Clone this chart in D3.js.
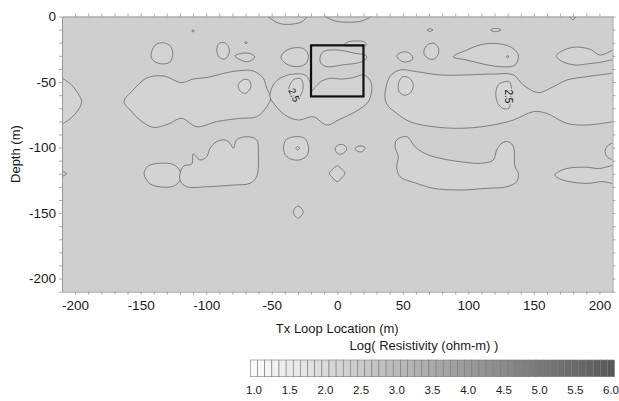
<!DOCTYPE html>
<html>
<head>
<meta charset="utf-8">
<script src="https://cdn.jsdelivr.net/npm/d3@7"></script>
<style>
  body { margin: 0; background: #fff; }
  svg { display: block; font-family: "Liberation Sans", Arial, sans-serif; }
</style>
</head>
<body>
<div id="chart"></div>
<script>
// Axis ticks (m)
const xTickValues = [-200, -150, -100, -50, 0, 50, 100, 150, 200]
const yTickValues = [0, -50, -100, -150, -200]
const colorbarLabels = [1.0, 1.5, 2.0, 2.5, 3.0, 3.5, 4.0, 4.5, 5.0, 5.5, 6.0]

// Log resistivity of the background and the contoured zones
const backgroundLevel = 2.35
const outerLevel = 2.25
const innerLevel = 2.15

// Contour lines, [Tx loop location (m), depth (m)]
const leftEdgeLobe = [[-210,-47],[-203,-52],[-197,-60],[-195,-65],[-198,-72],[-205,-79],[-210,-82]]
const leftEdgeNotch = [[-210,-118],[-206.5,-120],[-210,-122]]
const topLobeA = [[-53,0],[-45,-5],[-37,-6],[-27,-4],[-23,0]]
const topLobeB = [[-9.3,0],[-1.7,-3.4],[8.4,-4.4],[18.6,-3.4],[26.3,0]]
const topLobeC = [[177.5,0],[179.8,-2.6],[182,0]]
const dotA = [[-111,-11],[-110,-10.2],[-109,-11],[-110,-11.8]]
const dotB = [[-70.6,-20],[-69.6,-19.2],[-68.6,-20],[-69.6,-20.8]]
const dotC = [[129,-30.7],[130,-29.9],[131,-30.7],[130,-31.5]]
const lensTopA = [[68.5,-10.3],[70.7,-9.3],[73,-10.3],[70.7,-11.3]]
const lensTopB = [[117,-10.3],[121,-9],[125,-10.3],[121,-11.6]]
const blobA = [[-142,-29],[-139,-22],[-133,-20],[-127,-23],[-125.5,-29],[-128,-35],[-135,-36],[-141,-33]]
const blobB = [[-92,-25],[-90,-20.5],[-86,-20],[-83,-23],[-82.5,-28],[-86,-32.5],[-90,-31]]
const lensA = [[-78,-30],[-72,-28],[-66,-28.5],[-63,-31],[-68,-34.5],[-74,-33]]
const bigLeft = [[-162.7,-65],[-155.6,-56],[-145.4,-47],[-132.7,-45.4],[-118.7,-50.5],[-109.9,-47.7],
  [-98.4,-46.4],[-86.9,-43.4],[-74.2,-41.3],[-64,-41.6],[-56.4,-47.2],[-53.8,-54.8],[-50.8,-62.4],
  [-53.8,-68.8],[-61.5,-76.5],[-74.2,-77.7],[-92,-80.2],[-107.2,-84.1],[-118.7,-77.7],[-128.9,-82],
  [-140.3,-84.6],[-150.5,-79],[-158,-71.4]]
const innerLeft = [[-75.5,-52],[-71,-48],[-67,-49],[-66,-54],[-70,-58.6],[-74,-57]]
const blobC = [[-43,-31],[-39,-26],[-32,-23.8],[-25,-25],[-22,-30],[-24,-36],[-31,-38.3],[-39,-36]]
const rectTop = [[5,-22],[8,-19.5],[15,-18.7],[21,-19.5],[22,-22],[14,-22.5]]
const rectLens = [[-13.2,-31.9],[-10.6,-26.8],[0.8,-25.6],[13.5,-28.1],[21.2,-29.4],[22.5,-31.4],
  [18.7,-34.5],[3.4,-37],[-8,-38.3],[-12.4,-35.7]]
const centerBlob = [[-51.3,-61.2],[-48.8,-52.3],[-43.7,-47.2],[-34.8,-44.1],[-24.6,-44.6],[-20.8,-49.8],
  [-20,-56.9],[-15.7,-52.8],[-11.9,-49.2],[-5.5,-47.2],[3.4,-47.7],[12.2,-46.7],[19.9,-44.6],[25,-48.5],
  [26.3,-56.1],[23.7,-65],[16.1,-71.3],[0.8,-79],[-8,-82.8],[-18.3,-76.5],[-29.7,-79],[-39.9,-75.2],[-47.5,-67.5]]
const innerCenter = [[-36,-52],[-33,-48],[-28,-47.5],[-26,-52],[-27,-58],[-30,-62.4],[-34,-60],[-37,-56]]
const lensB = [[45.4,-30],[50,-27],[55,-28],[57.6,-32],[54,-34.5],[49,-34]]
const blobD = [[66,-27],[69,-21.5],[74,-20.5],[77,-24],[77,-29],[73,-32.7],[68,-31]]
const upperRight = [[88.6,-30.7],[98.8,-25.6],[108.9,-21.7],[119.1,-20.5],[131.8,-23],[138.1,-29.4],
  [135.6,-37],[124.2,-38.3],[108.9,-35.7],[98.8,-33.2]]
const rightEdgeUpper = [[210,-25.6],[200.5,-29.4],[192.8,-25],[180,-23.5],[168.7,-28],[167.4,-30.5],
  [172,-34.5],[182,-37],[192,-36],[200,-35],[210,-33]]
const rightEdgeMid = [[210,-48.5],[207.5,-56],[210,-63.7]]
const bigRight = [[210,-43.4],[190.3,-45.9],[175.1,-48.5],[164.8,-53.6],[153.4,-58.1],[142,-52.3],
  [134.4,-44.6],[119.1,-43.9],[98.8,-44.6],[78.4,-44.6],[60.6,-42.1],[47.9,-40.8],[40.2,-45.9],
  [36.4,-61.2],[38.2,-67.5],[45.4,-73.9],[55.5,-80.3],[73.3,-84.1],[93.7,-85.3],[114,-83.6],
  [134.4,-79],[149.6,-72.6],[159.8,-73.9],[175.1,-81.5],[190.3,-82.8],[210,-80.3]]
const innerRightA = [[47,-50],[50,-46],[55,-47],[58,-52],[56,-58],[51,-60],[47,-57]]
const innerRightB = [[127,-50],[131,-49.7],[133,-55],[132,-65],[131,-70],[126,-70],[122,-65],[121,-58],[123,-52]]
const ringA = [[-41,-100],[-39,-94],[-32,-91.7],[-25,-93],[-22,-99],[-23,-106],[-29,-109.5],[-36,-108.5],[-40,-105]]
const ringAInner = [[-31.5,-100.6],[-30.2,-99.3],[-28.9,-100.6],[-30.2,-101.9]]
const diamondA = [[-30,-144.6],[-26,-149],[-30,-154],[-33.5,-149]]
const smallA = [[-1.7,-101],[1,-98],[5,-98],[7.2,-101],[5,-104],[1,-105]]
const smallB = [[13.5,-101],[17,-98.8],[21.2,-100],[19,-103.2],[16,-103]]
const smallC = [[0,-114],[3.5,-116.5],[5.9,-119.6],[3.5,-123],[0,-126],[-3.5,-123],[-6,-119.6],[-3.5,-116.5]]
const leftOval = [[-147.4,-120],[-144,-114],[-135,-112],[-125,-113],[-120,-118],[-120,-125],
  [-125,-129.5],[-135,-130],[-143,-127.5]]
const centerLower = [[-120,-120],[-117,-114],[-111,-112.6],[-109.9,-104.9],[-104.7,-109.5],[-99.6,-107],
  [-97.1,-100.6],[-92,-95.5],[-85.6,-94.2],[-81.8,-96.8],[-79.3,-100.6],[-76.7,-94.2],[-69.1,-91.7],
  [-61.5,-94.2],[-60.2,-104.4],[-61.5,-122.2],[-66.6,-127.3],[-79.3,-128.6],[-99.6,-129.9],
  [-114.9,-129.9],[-119.4,-126]]
const rightLower = [[44.1,-99.4],[45.4,-94.2],[53,-91.7],[59.3,-99.4],[64.4,-103.2],[69.5,-105.7],
  [78.4,-108.2],[93.7,-110.8],[110.2,-112],[119.1,-109.5],[121.6,-101.9],[125.5,-96.8],[130.5,-95.5],
  [134.4,-99.4],[135.6,-114.6],[138.1,-119.6],[136.9,-126],[129.3,-129.9],[114,-131.1],[93.7,-132.4],
  [73.3,-131.1],[60.6,-127.3],[47.9,-122.2],[45.4,-114.6],[46.6,-107]]
const rightEdgeLowA = [[210,-96.5],[206,-99],[204.3,-103],[206,-107],[210,-109.5]]
const rightEdgeLowB = [[210,-113.5],[200,-116],[190,-115],[175,-116],[168,-119],[166,-121],[170,-124],
  [180,-126.5],[192,-127.3],[202,-126],[210,-127.5]]

// Contours drawn in order: outer zones first, then the ones nested inside
const contours = [
  { points: leftEdgeLobe, level: outerLevel, open: true },
  { points: leftEdgeNotch, level: outerLevel, open: true },
  { points: topLobeA, level: outerLevel, open: true },
  { points: topLobeB, level: outerLevel, open: true },
  { points: topLobeC, level: outerLevel, open: true },
  { points: rightEdgeUpper, level: outerLevel, open: true },
  { points: rightEdgeMid, level: outerLevel, open: true },
  { points: bigRight, level: outerLevel, open: true },
  { points: rightEdgeLowA, level: outerLevel, open: true },
  { points: rightEdgeLowB, level: outerLevel, open: true },
  { points: bigLeft, level: outerLevel },
  { points: centerBlob, level: outerLevel },
  { points: blobA, level: outerLevel },
  { points: blobB, level: outerLevel },
  { points: lensA, level: outerLevel },
  { points: blobC, level: outerLevel },
  { points: rectTop, level: outerLevel },
  { points: rectLens, level: outerLevel },
  { points: lensB, level: outerLevel },
  { points: blobD, level: outerLevel },
  { points: upperRight, level: outerLevel },
  { points: ringA, level: outerLevel },
  { points: diamondA, level: outerLevel },
  { points: smallA, level: outerLevel },
  { points: smallB, level: outerLevel },
  { points: smallC, level: outerLevel },
  { points: leftOval, level: outerLevel },
  { points: centerLower, level: outerLevel },
  { points: rightLower, level: outerLevel },
  { points: lensTopA, level: outerLevel },
  { points: lensTopB, level: outerLevel },
  { points: dotA, level: outerLevel },
  { points: dotB, level: outerLevel },
  { points: innerLeft, level: innerLevel },
  { points: innerCenter, level: innerLevel },
  { points: innerRightA, level: innerLevel },
  { points: innerRightB, level: innerLevel },
  { points: ringAInner, level: innerLevel },
  { points: dotC, level: innerLevel }
]

const contourLabels = [
  { x: -33, depth: -60, text: "2.5", angle: 65 },
  { x: 131, depth: -61, text: "2.5", angle: 90 }
]

// Tx loop footprint
const loopX = [-20, 20]
const loopDepth = [-22, -61]

// Set up the dimensions of the chart
const margin = { top: 16.5, right: 6.5, bottom: 109.3, left: 62 }
const fullW = 619, fullH = 401
const width = fullW - margin.left - margin.right
const height = fullH - margin.top - margin.bottom

const root = d3.select("#chart").append("svg")
  .attr("width", fullW)
  .attr("height", fullH)

const svg = root.append("g")
  .attr("transform", "translate(" + margin.left + "," + margin.top + ")")

const x = d3.scaleLinear().domain([-210, 210]).range([0, width])
const y = d3.scaleLinear().domain([0, -210]).range([0, height])
const gray = d3.scaleLinear().domain([1, 6]).range(["#fbfbfb", "#595959"])

// Background fill
svg.append("rect")
  .attr("width", width)
  .attr("height", height)
  .attr("fill", gray(backgroundLevel))

svg.append("clipPath").attr("id", "plot-clip")
  .append("rect").attr("width", width).attr("height", height)

const plot = svg.append("g").attr("clip-path", "url(#plot-clip)")

const closedLine = d3.line()
  .x(d => x(d[0])).y(d => y(d[1]))
  .curve(d3.curveCatmullRomClosed.alpha(0.5))
const openLine = d3.line()
  .x(d => x(d[0])).y(d => y(d[1]))
  .curve(d3.curveCatmullRom.alpha(0.5))

contours.forEach(c => {
  if (c.open) {
    plot.append("path")
      .attr("d", openLine(c.points) + "Z")
      .attr("fill", gray(c.level))
    plot.append("path")
      .attr("d", openLine(c.points))
      .attr("fill", "none")
      .attr("stroke", "#5a5a5a")
      .attr("stroke-width", 0.7)
  } else {
    plot.append("path")
      .attr("d", closedLine(c.points))
      .attr("fill", gray(c.level))
      .attr("stroke", "#5a5a5a")
      .attr("stroke-width", 0.7)
  }
})

// Contour labels
plot.selectAll("text.clabel")
  .data(contourLabels)
  .enter().append("text")
  .attr("class", "clabel")
  .attr("transform", d => "translate(" + x(d.x) + "," + y(d.depth) + ") rotate(" + d.angle + ")")
  .attr("text-anchor", "middle")
  .attr("dy", "0.35em")
  .style("font-size", "10px")
  .style("paint-order", "stroke")
  .attr("stroke", gray(innerLevel))
  .attr("stroke-width", 2.5)
  .attr("fill", "#111")
  .text(d => d.text)

// Tx loop rectangle
svg.append("rect")
  .attr("x", x(loopX[0]))
  .attr("y", y(loopDepth[0]))
  .attr("width", x(loopX[1]) - x(loopX[0]))
  .attr("height", y(loopDepth[1]) - y(loopDepth[0]))
  .attr("fill", "none")
  .attr("stroke", "#111")
  .attr("stroke-width", 2.2)

// Axes: minor ticks every 10 m, labels every 50 m
const xMinor = d3.range(-200, 201, 10)
const yMinor = d3.range(0, -211, -10)
const fmt = vals => d => vals.includes(d) ? String(d) : ""

function styleAxis(g) {
  g.select(".domain").attr("stroke", "#8a8a8a").attr("stroke-width", 0.8)
  g.selectAll(".tick line").attr("stroke", "#8a8a8a").attr("stroke-width", 0.7)
  g.selectAll(".tick text").attr("fill", "#1a1a1a").style("font-size", "13.5px")
}

svg.append("g")
  .attr("transform", "translate(0," + height + ")")
  .call(d3.axisBottom(x).tickValues(xMinor).tickSize(3).tickSizeOuter(0).tickPadding(6).tickFormat(fmt(xTickValues)))
  .call(styleAxis)

svg.append("g")
  .call(d3.axisTop(x).tickValues(xMinor).tickSize(3).tickSizeOuter(0).tickFormat(""))
  .call(styleAxis)

svg.append("g")
  .call(d3.axisLeft(y).tickValues(yMinor).tickSize(3).tickSizeOuter(0).tickPadding(3).tickFormat(fmt(yTickValues)))
  .call(styleAxis)

svg.append("g")
  .attr("transform", "translate(" + width + ",0)")
  .call(d3.axisRight(y).tickValues(yMinor).tickSize(3).tickSizeOuter(0).tickFormat(""))
  .call(styleAxis)

// Axis titles
root.append("text")
  .attr("transform", "translate(19.5," + (margin.top + height / 2) + ") rotate(-90)")
  .attr("text-anchor", "middle")
  .style("font-size", "13px")
  .attr("fill", "#1a1a1a")
  .text("Depth (m)")

root.append("text")
  .attr("x", margin.left + x(0))
  .attr("y", 332.5)
  .attr("text-anchor", "middle")
  .style("font-size", "13px")
  .attr("fill", "#1a1a1a")
  .text("Tx Loop Location (m)")

// Colour bar
const cb = d3.scaleLinear().domain([1, 6]).range([254, 611])
const cbLevels = d3.range(10, 61).map(v => v / 10)
const cellW = (cb(6) - cb(1)) / (cbLevels.length - 1)
const cbTop = 360, cbH = 16.7

root.append("text")
  .attr("x", 424)
  .attr("y", 349.5)
  .attr("text-anchor", "middle")
  .style("font-size", "13px")
  .attr("fill", "#1a1a1a")
  .text("Log( Resistivity (ohm-m) )")

root.selectAll("rect.cell")
  .data(cbLevels)
  .enter().append("rect")
  .attr("class", "cell")
  .attr("x", d => cb(d) - cellW / 2)
  .attr("y", cbTop)
  .attr("width", cellW)
  .attr("height", cbH)
  .attr("fill", d => gray(d))
  .attr("stroke", "#7a7a7a")
  .attr("stroke-width", 0.6)

root.selectAll("text.cblabel")
  .data(colorbarLabels)
  .enter().append("text")
  .attr("class", "cblabel")
  .attr("x", d => cb(d))
  .attr("y", 393.5)
  .attr("text-anchor", "middle")
  .style("font-size", "11.5px")
  .attr("fill", "#1a1a1a")
  .text(d => d.toFixed(1))
</script>
</body>
</html>
